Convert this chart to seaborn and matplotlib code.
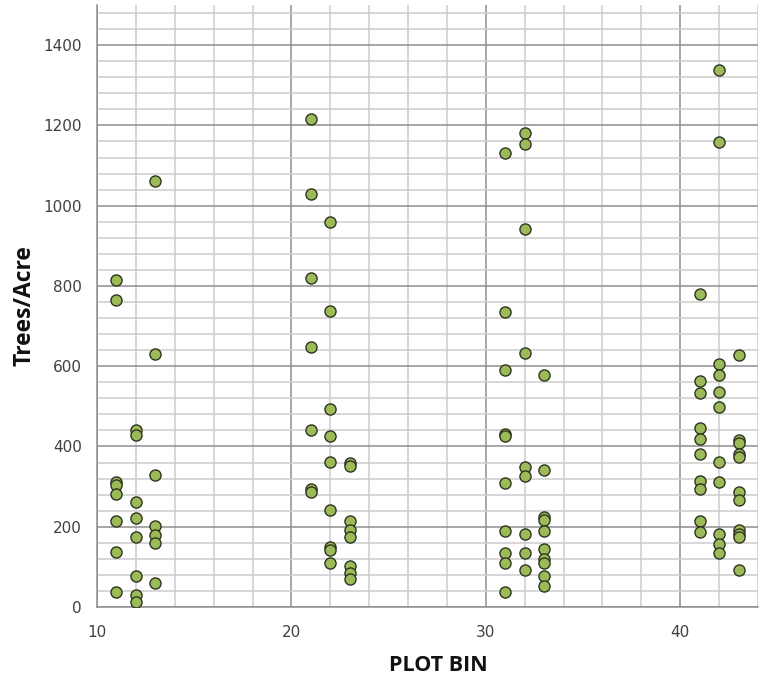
import numpy as np
import pandas as pd
import matplotlib
matplotlib.use("Agg")
import matplotlib.pyplot as plt
from matplotlib.ticker import MultipleLocator
import seaborn as sns

# Trees per acre observed in each plot bin
bin_11 = [814, 766, 312, 303, 281, 214, 137, 37]
bin_12 = [441, 428, 261, 223, 174, 78, 30, 13]
bin_13 = [1061, 630, 330, 202, 179, 160, 61]
bin_21 = [1215, 1030, 819, 647, 441, 293, 287]
bin_22 = [959, 738, 494, 426, 361, 242, 150, 142, 110]
bin_23 = [358, 351, 214, 192, 174, 102, 85, 70]
bin_31 = [1131, 734, 590, 431, 426, 310, 189, 134, 110, 37]
bin_32 = [1182, 1153, 942, 634, 349, 326, 181, 134, 92]
bin_33 = [577, 341, 225, 217, 189, 144, 119, 109, 78, 53]
bin_41 = [779, 563, 532, 447, 418, 381, 315, 293, 214, 188]
bin_42 = [1339, 1158, 605, 578, 535, 499, 362, 312, 183, 157, 134]
bin_43 = [627, 415, 408, 380, 374, 287, 266, 192, 183, 174, 92]

plot_bins = [11, 12, 13, 21, 22, 23, 31, 32, 33, 41, 42, 43]
bin_values = [bin_11, bin_12, bin_13, bin_21, bin_22, bin_23,
              bin_31, bin_32, bin_33, bin_41, bin_42, bin_43]

df = pd.DataFrame(
    [(b, v) for b, vals in zip(plot_bins, bin_values) for v in vals],
    columns=["PLOT BIN", "Trees/Acre"],
)

sns.set_theme(style="white")
plt.rcParams["font.family"] = ["DejaVu Sans"]

fig = plt.figure(figsize=(7.67, 6.83), dpi=100)
ax = fig.add_axes([97 / 767, 1 - 607 / 683, (758 - 97) / 767, (607 - 5) / 683])

ax.set_xlim(10, 44)
ax.set_ylim(0, 1500)
ax.xaxis.set_major_locator(MultipleLocator(10))
ax.xaxis.set_minor_locator(MultipleLocator(2))
ax.yaxis.set_major_locator(MultipleLocator(200))
ax.yaxis.set_minor_locator(MultipleLocator(40))
ax.set_yticks([0, 200, 400, 600, 800, 1000, 1200, 1400])

ax.grid(which="minor", color="#cdcdcd", linewidth=1.1)
ax.grid(which="major", color="#8e8e8e", linewidth=1.1)
ax.set_axisbelow(True)

sns.scatterplot(
    data=df, x="PLOT BIN", y="Trees/Acre", ax=ax,
    s=64, color="#9bbb59", edgecolor="#2f3320", linewidth=1.0, zorder=3,
)

for side in ["top", "right"]:
    ax.spines[side].set_visible(False)
for side in ["left", "bottom"]:
    ax.spines[side].set_color("#8e8e8e")
    ax.spines[side].set_linewidth(1.1)

ax.tick_params(which="major", direction="out", length=5, width=1.1,
               color="#8e8e8e", labelsize=11, labelcolor="#404040", pad=6)
ax.tick_params(which="minor", length=0)
ax.tick_params(axis="x", pad=8)

ax.set_xlabel("PLOT BIN", fontsize=15.5, fontweight="bold", family="Open Sans",
              color="#111111")
ax.set_ylabel("Trees/Acre", fontsize=16.5, fontweight="bold", family="Open Sans",
              color="#111111")
ax.xaxis.set_label_coords(0.517, -0.08)
ax.yaxis.set_label_coords(-0.092, 0.5)

fig.savefig("out.png", dpi=100)
